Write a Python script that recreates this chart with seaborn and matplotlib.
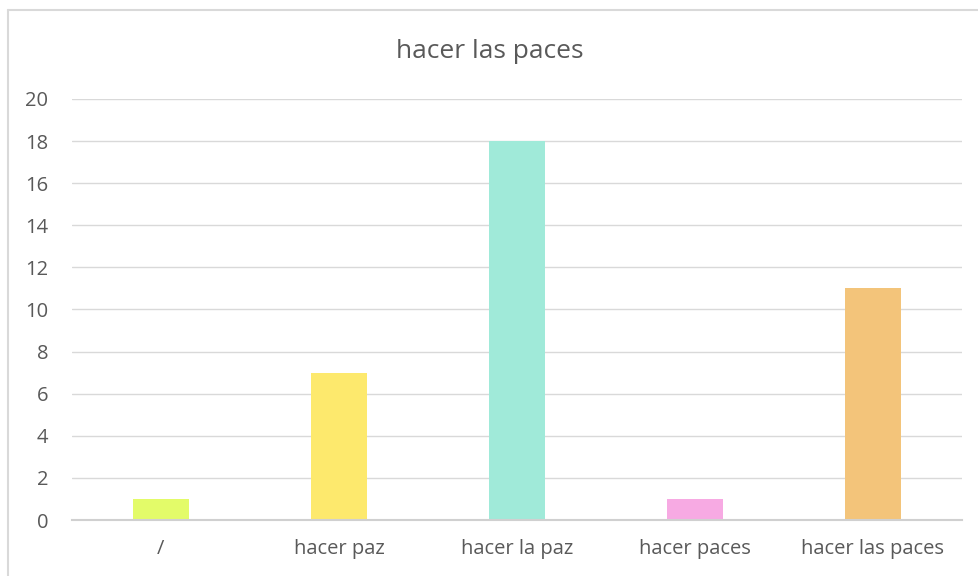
import matplotlib.pyplot as plt
import seaborn as sns
import pandas as pd
import numpy as np
from matplotlib.lines import Line2D

categories = ["/", "hacer paz", "hacer la paz", "hacer paces", "hacer las paces"]
values = [1, 7, 18, 1, 11]
colors = ["#E3FB69", "#FDE96D", "#A0EAD9", "#F7AAE3", "#F3C47A"]
yticks = [0, 2, 4, 6, 8, 10, 12, 14, 16, 18, 20]

sns.set_theme(style="white")
plt.rcParams['font.family'] = ['Open Sans', 'DejaVu Sans']

df = pd.DataFrame({"cat": categories, "val": values})

fig = plt.figure(figsize=(9.79, 5.76), dpi=100)
ax = fig.add_axes([0.0735, 0.0972, 0.909, 0.731])
sns.barplot(data=df, x="cat", y="val", hue="cat", palette=colors,
            width=0.315, legend=False, ax=ax, saturation=1, linewidth=0)

ax.set_ylim(0, 20)
ax.set_xlim(-0.5, 4.5)
ax.set_yticks(yticks)
ax.yaxis.grid(True, color="#D9D9D9", linewidth=1)
ax.set_axisbelow(True)
for s in ["top", "right", "left"]:
    ax.spines[s].set_visible(False)
ax.spines["bottom"].set_color("#D0D0D0")
ax.spines["bottom"].set_linewidth(1.5)
ax.tick_params(axis="both", length=0, labelsize=14.5, colors="#595959")
ax.tick_params(axis="x", pad=14)
ax.tick_params(axis="y", pad=17)
ax.set_xlabel("")
ax.set_ylabel("")
fig.text(0.5, 0.911, "hacer las paces", ha="center", va="center",
         fontsize=19, color="#595959")

# chart border (cropped: only left and top edges visible)
bx = 8.5 / 979
by = 1 - 9.5 / 576
fig.lines.append(Line2D([bx, bx], [0, by], transform=fig.transFigure,
                        color="#D9D9D9", linewidth=1.5))
fig.lines.append(Line2D([bx, 1], [by, by], transform=fig.transFigure,
                        color="#D9D9D9", linewidth=1.5))

plt.savefig("out.png", dpi=100)
